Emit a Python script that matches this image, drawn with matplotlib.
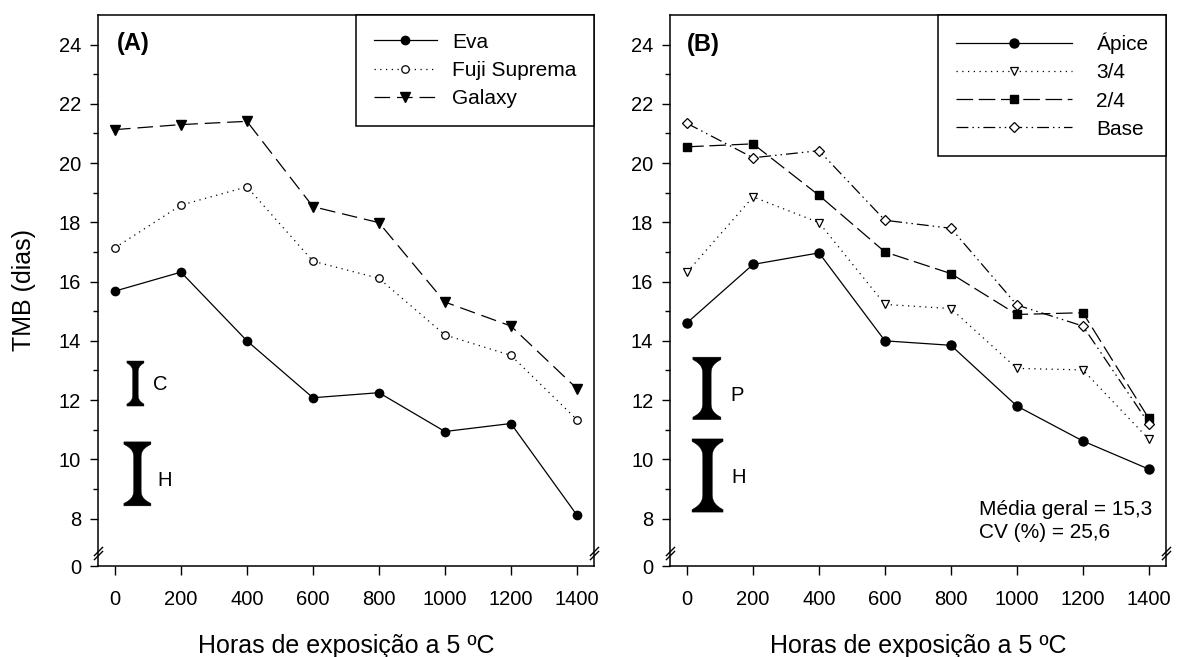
import numpy as np
import matplotlib
matplotlib.use("Agg")
import matplotlib.pyplot as plt
from matplotlib.path import Path
from matplotlib.patches import Polygon

plt.rcParams['font.family'] = ['Liberation Sans', 'DejaVu Sans']

# ---------------- data ----------------
hours = [0, 200, 400, 600, 800, 1000, 1200, 1400]

eva = [15.68, 16.32, 14.00, 12.08, 12.25, 10.94, 11.21, 8.12]
fuji = [17.14, 18.58, 19.20, 16.69, 16.11, 14.20, 13.51, 11.34]
galaxy = [21.13, 21.30, 21.41, 18.53, 17.99, 15.31, 14.50, 12.39]

apice = [14.61, 16.58, 16.97, 14.00, 13.85, 11.80, 10.62, 9.67]
q34 = [16.32, 18.86, 17.99, 15.23, 15.09, 13.07, 13.02, 10.68]
q24 = [20.55, 20.65, 18.91, 17.00, 16.27, 14.89, 14.95, 11.38]
base = [21.34, 20.18, 20.42, 18.07, 17.80, 15.21, 14.50, 11.21]

labels_a = ['Eva', 'Fuji Suprema', 'Galaxy']
labels_b = ['Ápice', '3/4', '2/4', 'Base']

# least significant difference bars (I-shaped)
bar_names_a = ['C', 'H']
bar_x_a = [62, 68]
bar_lo_a = [11.80, 8.43]
bar_hi_a = [13.32, 10.59]

bar_names_b = ['P', 'H']
bar_x_b = [60, 62]
bar_lo_b = [11.34, 8.22]
bar_hi_b = [13.45, 10.69]

ytick_vals = [6.4, 8, 10, 12, 14, 16, 18, 20, 22, 24]
ytick_labels = ['0', '8', '10', '12', '14', '16', '18', '20', '22', '24']
yminor_vals = [9, 11, 13, 15, 17, 19, 21, 23]
xtick_vals = [0, 200, 400, 600, 800, 1000, 1200, 1400]

stats_text = 'Média geral = 15,3\nCV (%) = 25,6'

# ---------------- figure ----------------
fig = plt.figure(figsize=(11.77, 6.57), dpi=100)
axA = fig.add_axes([0.0831, 0.1385, 0.4219, 0.8387])
axB = fig.add_axes([0.5692, 0.1385, 0.4217, 0.8387])

XLIM = (-52, 1453)
YLIM = (6.4, 25.0)
BREAK_Y = 6.84

dotted = (0, (1.0, 3.6))
dashed_a = (0, (12.5, 5.5))
dashed_b = (0, (13.3, 4.5))
dashdotdot = (0, (9.5, 3.2, 1.2, 3.2, 1.2, 3.2))

LW = 0.9

# break marker: two parallel diagonal strokes
break_path = Path([(-0.45, -0.65), (0.45, 0.25), (-0.45, -0.25), (0.45, 0.65)],
                  [Path.MOVETO, Path.LINETO, Path.MOVETO, Path.LINETO])


def setup(ax):
    ax.set_xlim(*XLIM)
    ax.set_ylim(*YLIM)
    ax.set_xticks(xtick_vals)
    ax.set_xticklabels([str(v) for v in xtick_vals])
    ax.set_yticks(ytick_vals)
    ax.set_yticklabels(ytick_labels)
    ax.set_yticks(yminor_vals, minor=True)
    for s in ax.spines.values():
        s.set_linewidth(1.1)
    ax.tick_params(axis='y', which='major', direction='out', length=6, width=1,
                   labelsize=14.5, pad=6)
    ax.tick_params(axis='y', which='minor', direction='out', length=3.5, width=1)
    ax.tick_params(axis='x', which='major', direction='out', length=6.5, width=1,
                   labelsize=14.5, pad=10.5)
    ax.set_xlabel('Horas de exposição a 5 ºC', fontsize=18)
    ax.xaxis.set_label_coords(0.5, -0.124)
    for xa in (0, 1):
        ax.plot([xa], [BREAK_Y], marker=break_path, markersize=9.5, color='black',
                markeredgewidth=1.0, linestyle='none', clip_on=False,
                transform=ax.get_yaxis_transform(), zorder=5)


def ibar(ax, x, lo, hi, W, wm, t, f):
    p0 = ax.transData.transform((0, 0))
    p1 = ax.transData.transform((1, 1))
    sx = p1[0] - p0[0]
    sy = p1[1] - p0[1]
    dx = lambda px: px / sx
    dy = lambda px: px / sy
    s = np.linspace(0, 1, 14)
    half = wm / 2 + (W / 2 - wm / 2) * (1 - s) ** 3
    right = [(x + dx(W / 2), hi), (x + dx(W / 2), hi - dy(t))]
    right += [(x + dx(h), hi - dy(t) - dy(f) * si) for h, si in zip(half, s)]
    right += [(x + dx(h), lo + dy(t) + dy(f) * si) for h, si in zip(half[::-1], s[::-1])]
    right += [(x + dx(W / 2), lo + dy(t)), (x + dx(W / 2), lo)]
    left = [(2 * x - px, py) for px, py in right[::-1]]
    poly = Polygon(right + left, closed=True, facecolor='black', edgecolor='black',
                   linewidth=0.3)
    ax.add_patch(poly)


# ---------------- panel A ----------------
setup(axA)
axA.plot(hours, eva, color='black', lw=LW, linestyle='-', marker='o', ms=6,
         mfc='black', mec='black', label=labels_a[0])
axA.plot(hours, fuji, color='black', lw=LW, linestyle=dotted, marker='o', ms=5.4,
         mfc='white', mec='black', mew=0.9, label=labels_a[1])
axA.plot(hours, galaxy, color='black', lw=LW, linestyle=dashed_a, marker='v', ms=6.5,
         mfc='black', mec='black', label=labels_a[2])
legA = axA.legend(loc='upper right', bbox_to_anchor=(1, 1), borderaxespad=0,
                  fancybox=False, edgecolor='black', framealpha=1, fontsize=15,
                  handlelength=3.0, handletextpad=0.75, borderpad=0.85,
                  labelspacing=0.44, numpoints=1)
legA.get_frame().set_linewidth(1.1)
axA.text(5, 24.05, '(A)', fontsize=17, fontweight='bold', ha='left', va='center')
axA.set_ylabel('TMB (dias)', fontsize=18)
axA.yaxis.set_label_coords(-0.1245, 0.5)

ibar(axA, bar_x_a[0], bar_lo_a[0], bar_hi_a[0], W=17, wm=5.5, t=2, f=10)
ibar(axA, bar_x_a[1], bar_lo_a[1], bar_hi_a[1], W=27, wm=7.5, t=2.5, f=14)
axA.text(114, 12.53, bar_names_a[0], fontsize=14.5, ha='left', va='center')
axA.text(129, 9.27, bar_names_a[1], fontsize=14.5, ha='left', va='center')

# ---------------- panel B ----------------
setup(axB)
axB.plot(hours, apice, color='black', lw=LW, linestyle='-', marker='o', ms=6.5,
         mfc='black', mec='black', label=labels_b[0])
axB.plot(hours, q34, color='black', lw=LW, linestyle=dotted, marker='v', ms=6,
         mfc='white', mec='black', mew=0.9, label=labels_b[1])
axB.plot(hours, q24, color='black', lw=LW, linestyle=dashed_b, marker='s', ms=5.5,
         mfc='black', mec='black', label=labels_b[2])
axB.plot(hours, base, color='black', lw=LW, linestyle=dashdotdot, marker='D', ms=4.8,
         mfc='white', mec='black', mew=0.9, label=labels_b[3])
legB = axB.legend(loc='upper right', bbox_to_anchor=(1, 1), borderaxespad=0,
                  fancybox=False, edgecolor='black', framealpha=1, fontsize=15,
                  handlelength=5.6, handletextpad=1.15, borderpad=0.85,
                  labelspacing=0.44, numpoints=1)
legB.get_frame().set_linewidth(1.1)
axB.text(0, 24.0, '(B)', fontsize=17, fontweight='bold', ha='left', va='center')

ibar(axB, bar_x_b[0], bar_lo_b[0], bar_hi_b[0], W=28, wm=8.5, t=2.5, f=15)
ibar(axB, bar_x_b[1], bar_lo_b[1], bar_hi_b[1], W=31, wm=9.5, t=2.5, f=17)
axB.text(131, 12.15, bar_names_b[0], fontsize=14.5, ha='left', va='center')
axB.text(135, 9.4, bar_names_b[1], fontsize=14.5, ha='left', va='center')

axB.text(884, 7.92, stats_text, fontsize=15, ha='left', va='center', linespacing=1.27)

fig.savefig('out.png', dpi=100)
